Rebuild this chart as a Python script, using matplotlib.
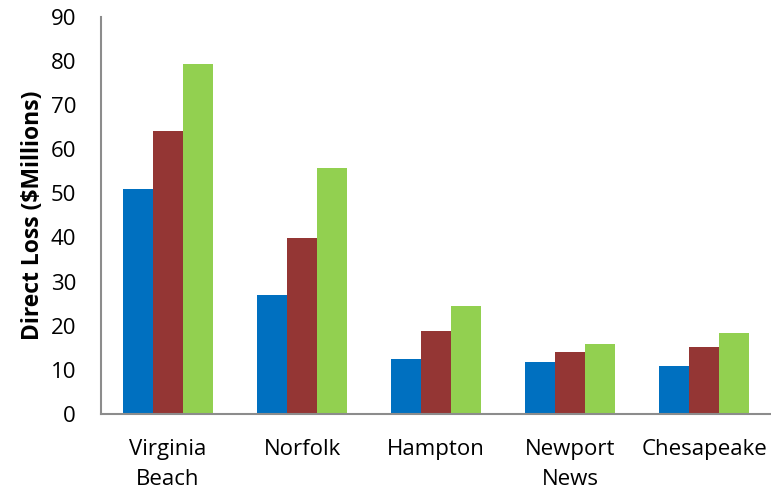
import numpy as np
import matplotlib
matplotlib.use("Agg")
import matplotlib.pyplot as plt

plt.rcParams['font.family'] = ['Open Sans', 'DejaVu Sans']

cities = ["Virginia\nBeach", "Norfolk", "Hampton", "Newport\nNews", "Chesapeake"]
loss_a = [51.0, 26.9, 12.5, 11.7, 10.8]
loss_b = [64.2, 39.8, 18.7, 14.0, 15.1]
loss_c = [79.3, 55.8, 24.5, 15.8, 18.4]

colors = ["#0070C0", "#943634", "#92D050"]

fig = plt.figure(figsize=(7.71, 4.94), dpi=100)
ax = fig.add_axes([0.131, 0.162, 0.869, 0.804])

x = np.arange(len(cities))
w = 0.224
for i, (vals, c) in enumerate(zip([loss_a, loss_b, loss_c], colors)):
    ax.bar(x + (i - 1) * w, vals, width=w, color=c, linewidth=0)

ax.set_xlim(-0.5, len(cities) - 0.5)
ax.set_ylim(0, 90)
ax.set_yticks(range(0, 91, 10))
ax.set_xticks(x)
ax.set_xticklabels(cities, fontsize=16, linespacing=1.55)
ax.tick_params(axis='y', labelsize=16, length=0, pad=18)
ax.tick_params(axis='x', length=0, pad=18)

ax.set_ylabel("Direct Loss ($Millions)", fontsize=16.5, fontweight='bold', labelpad=4)

for s in ['top', 'right']:
    ax.spines[s].set_visible(False)
for s in ['left', 'bottom']:
    ax.spines[s].set_color('#8c8c8c')
    ax.spines[s].set_linewidth(1.5)

fig.savefig("out.png", dpi=100)
